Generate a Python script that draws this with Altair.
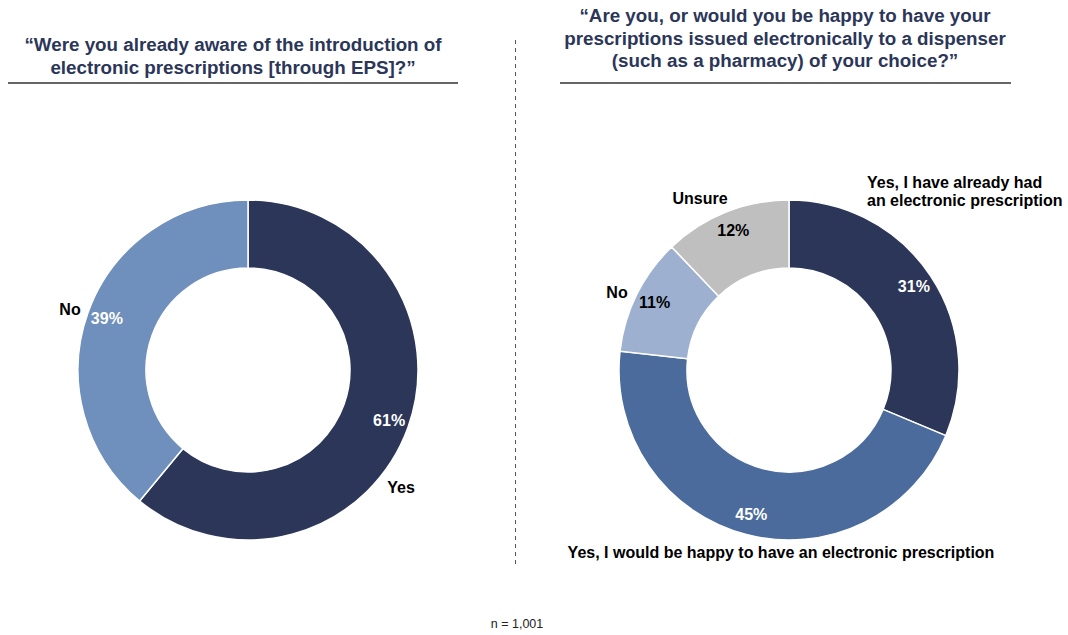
import altair as alt
import pandas as pd

FONT = "Liberation Sans"
NAVY = "#2B3659"

# ---- data ----
q1_cats = ["Yes", "No"]
q1_vals = [61, 39]
q1_colors = ["#2B3659", "#6F8FBC"]

q2_cats = [
    "Yes, I have already had an electronic prescription",
    "Yes, I would be happy to have an electronic prescription",
    "No",
    "Unsure",
]
q2_vals = [31, 45, 11, 12]
q2_colors = ["#2B3659", "#4A6B9B", "#9DB0CF", "#BFBFBF"]

title1 = ["\u201cWere you already aware of the introduction of",
          "electronic prescriptions [through EPS]?\u201d"]
title2 = ["\u201cAre you, or would you be happy to have your",
          "prescriptions issued electronically to a dispenser",
          "(such as a pharmacy) of your choice?\u201d"]
footnote = "n = 1,001"


def make_df(cats, vals):
    df = pd.DataFrame({"cat": cats, "value": vals, "idx": list(range(len(cats)))})
    df["label"] = df["value"].astype(str) + "%"
    return df


def donut(df, cats, colors, cx, cy):
    base = alt.Chart(df).encode(
        theta=alt.Theta("value:Q", stack="normalize"),
        order=alt.Order("idx:Q"),
        x=alt.value(cx),
        y=alt.value(cy),
    )
    arc = base.mark_arc(innerRadius=102, outerRadius=170, stroke="white",
                        strokeWidth=1.5).encode(
        color=alt.Color("cat:N", scale=alt.Scale(domain=cats, range=colors), legend=None)
    )
    txt = base.mark_text(radius=150, font=FONT, fontSize=16, fontWeight="bold").encode(
        text="label:N",
        color=alt.condition("datum.value < 20", alt.value("black"), alt.value("white")),
    )
    return alt.layer(arc, txt)


d1 = donut(make_df(q1_cats, q1_vals), q1_cats, q1_colors, 248, 370)
d2 = donut(make_df(q2_cats, q2_vals), q2_cats, q2_colors, 789, 370)

dummy = pd.DataFrame({"a": [0]})


def label(text, x, y, align="center", size=16, weight="bold", color="black",
          lineHeight=18, baseline="alphabetic"):
    return alt.Chart(dummy).mark_text(
        text=text, font=FONT, fontSize=size, fontWeight=weight, color=color,
        align=align, baseline=baseline, lineHeight=lineHeight,
    ).encode(x=alt.value(x), y=alt.value(y))


def rule(x1, x2, y1, y2, color="#404040", width=1.5, dash=None):
    kw = dict(color=color, strokeWidth=width)
    if dash:
        kw["strokeDash"] = dash
    return alt.Chart(dummy).mark_rule(**kw).encode(
        x=alt.value(x1), x2=alt.value(x2), y=alt.value(y1), y2=alt.value(y2))


annots = [
    label(title1, 233, 51, size=18.8, color=NAVY, lineHeight=22.5),
    label(title2, 785, 22, size=18.8, color=NAVY, lineHeight=22.5),
    rule(8, 458, 83, 83, color="#333333", width=1.5),
    rule(560, 1011, 83, 83, color="#333333", width=1.5),
    rule(515.5, 515.5, 40, 566, color="#555555", width=1, dash=[4, 4]),
    label("No", 70, 315),
    label("Yes", 401, 493),
    label("Unsure", 700, 204),
    label("No", 617, 298),
    label(["Yes, I have already had", "an electronic prescription"], 867, 188,
          align="left", lineHeight=18),
    label("Yes, I would be happy to have an electronic prescription", 781, 558),
    label(footnote, 517, 628, size=12.5, weight="normal", color="#222222"),
]

chart = alt.layer(d1, d2, *annots).resolve_scale(color="independent").properties(
    width=1068, height=635, padding=0,
    autosize=alt.AutoSizeParams(type="none"),
).configure_view(stroke=None)

chart.save("out.html", embed_options={"renderer": "svg", "actions": False})
